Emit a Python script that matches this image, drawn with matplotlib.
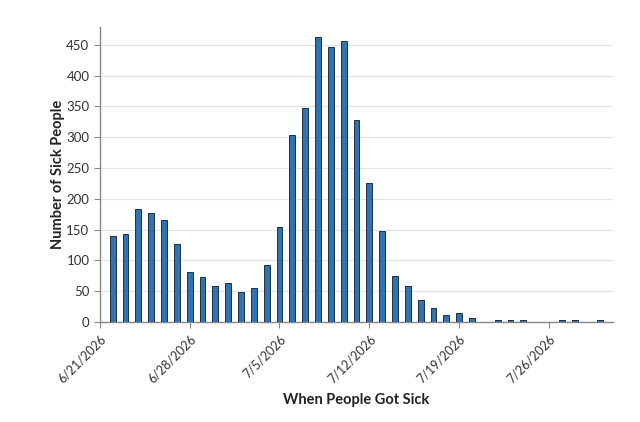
import datetime
import numpy as np
import matplotlib
matplotlib.use("Agg")
import matplotlib.pyplot as plt

plt.rcParams['font.family'] = ['Lato', 'DejaVu Sans']

start = datetime.date(2026, 6, 21)
# sick people per day, days 1..39 after 6/21/2026
day_offsets = list(range(1, 40))
sick_counts = [139, 143, 184, 177, 166, 126, 81, 73, 58, 64,
               48, 55, 93, 155, 303, 348, 462, 446, 456, 328,
               226, 148, 74, 59, 35, 22, 12, 14, 6, 0,
               4, 4, 4, 0, 0, 4, 4, 0, 4]
tick_labels = ["6/21/2026", "6/28/2026", "7/5/2026", "7/12/2026", "7/19/2026", "7/26/2026"]

dates = [start + datetime.timedelta(days=d) for d in day_offsets]
tick_dates = [start + datetime.timedelta(days=7 * i) for i in range(len(tick_labels))]

fig = plt.figure(figsize=(6.4, 4.22), dpi=100)
ax = fig.add_axes([0.156, 0.237, 0.802, 0.699])

ax.bar(dates, sick_counts, width=0.45, color="#2f73b3", edgecolor="#1f2f3f", linewidth=0.7, zorder=3)

ax.set_xlim(start - datetime.timedelta(hours=4), start + datetime.timedelta(days=40, hours=2))
ax.set_ylim(0, 479)
ax.set_yticks(np.arange(0, 451, 50))
ax.set_xticks(tick_dates)
ax.set_xticklabels(tick_labels, rotation=45, ha="right", rotation_mode="anchor", fontsize=9)

ax.grid(axis="y", color="#e3e3e3", linewidth=0.9, zorder=0)
ax.grid(axis="x", visible=False)
for s in ["top", "right"]:
    ax.spines[s].set_visible(False)
for s in ["left", "bottom"]:
    ax.spines[s].set_color("#888888")
    ax.spines[s].set_linewidth(1.0)
ax.tick_params(axis="y", labelsize=9.5)
ax.tick_params(colors="#888888", labelcolor="#333333", length=4)

ax.set_xlabel("When People Got Sick", fontsize=10.5, fontweight="bold", color="#222222", labelpad=6)
ax.set_ylabel("Number of Sick People", fontsize=10.5, fontweight="bold", color="#222222", labelpad=1)

fig.savefig("out.png", dpi=100)
